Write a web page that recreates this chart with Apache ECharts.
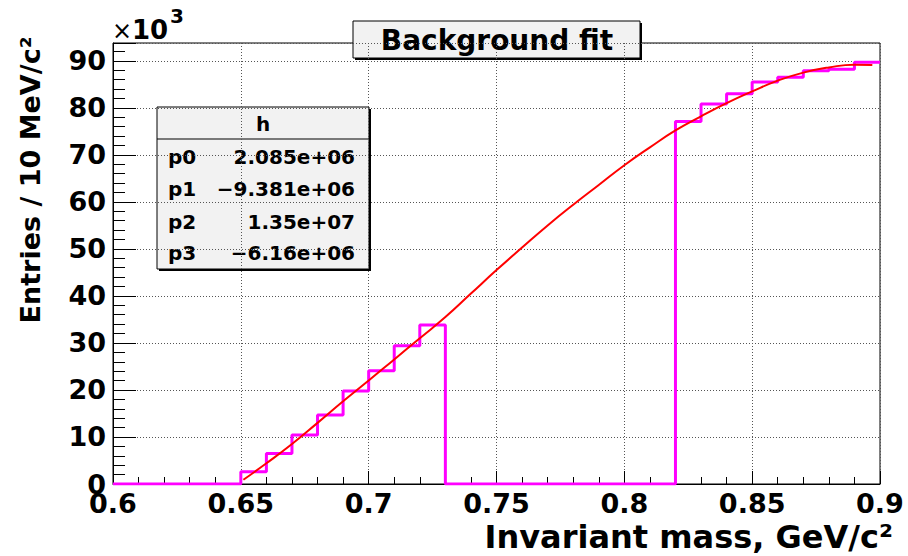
<!DOCTYPE html>
<html><head><meta charset="utf-8">
<script src="https://cdn.jsdelivr.net/npm/echarts@6/dist/echarts.min.js"></script>
<style>html,body{margin:0;padding:0;background:#fff}#c{width:908px;height:556px}</style>
</head><body><div id="c"></div>
<script>
// Histogram: low edges of 10 MeV bins and entries (in units of 10^3)
const binLowEdges = [0.60,0.61,0.62,0.63,0.64,0.65,0.66,0.67,0.68,0.69,
                     0.70,0.71,0.72,0.73,0.74,0.75,0.76,0.77,0.78,0.79,
                     0.80,0.81,0.82,0.83,0.84,0.85,0.86,0.87,0.88,0.89];
const binWidth = 0.01;
const binEntriesK = [0,0,0,0,0, 2.6,6.5,10.4,14.7,19.8,
                     24.1,29.4,33.8,0,0,0,0,0,0,0,
                     0,0,77.1,80.8,83.0,85.5,86.5,87.9,88.2,89.7];
// Fit curve (x in GeV/c^2, y in 10^3)
const fitX  = [0.651,0.66,0.67,0.68,0.69,0.70,0.71,0.72,0.73,0.74,0.75,0.76,0.77,0.78,0.79,0.80,0.81,0.82,0.83,0.84,0.85,0.86,0.87,0.88,0.89,0.897];
const fitYK = [0.9,4.4,8.5,13.0,17.6,22.0,26.5,31.0,35.5,40.5,45.5,50.3,55.0,59.4,63.6,67.8,71.6,75.2,78.2,81.0,83.5,85.8,87.5,88.6,89.2,89.1];
// Stats box
const statsHeader = 'h';
const statsNames  = ['p0','p1','p2','p3'];
const statsValues = ['2.085e+06','\u22129.381e+06','1.35e+07','\u22126.16e+06'];
const titleText = 'Background fit';
const xTitle = 'Invariant mass, GeV/c\u00B2';
const yTitle = 'Entries / 10 MeV/c\u00B2';
const yExponentParts = ['\u00D7', '10', '3'];

const FONT = '"DejaVu Sans", "Liberation Sans", sans-serif';

const histPts = [];
binLowEdges.forEach((lo, i) => {
  histPts.push([lo, binEntriesK[i]]);
  histPts.push([lo + binWidth, binEntriesK[i]]);
});
const fitPts = fitX.map((x, i) => [x, fitYK[i]]);

const chart = echarts.init(document.getElementById('c'), null, {renderer: 'svg'});

const statsTop = 107, statsLeft = 157, statsW = 212, statsH = 162;
const rowY = [157, 189, 221.5, 253];
const statsEls = [
  {type:'rect', shape:{x:statsLeft+2, y:statsTop+2, width:statsW, height:statsH}, style:{fill:'#000'}},
  {type:'rect', shape:{x:statsLeft, y:statsTop, width:statsW, height:statsH}, style:{fill:'#f2f2f2', stroke:'#000', lineWidth:1}},
  {type:'line', shape:{x1:statsLeft, y1:139, x2:statsLeft+statsW, y2:139}, style:{stroke:'#000', lineWidth:1}},
  {type:'text', style:{text:statsHeader, x:statsLeft+statsW/2, y:124, font:'bold 20px '+FONT, fill:'#000', textAlign:'center', textVerticalAlign:'middle'}}
];
statsNames.forEach((n, i) => {
  statsEls.push({type:'text', style:{text:n, x:168, y:rowY[i], font:'bold 20px '+FONT, fill:'#000', textAlign:'left', textVerticalAlign:'middle'}});
  statsEls.push({type:'text', style:{text:statsValues[i], x:355, y:rowY[i], font:'bold 20px '+FONT, fill:'#000', textAlign:'right', textVerticalAlign:'middle'}});
});

const option = {
  animation: false,
  backgroundColor: '#fff',
  grid: {left: 113, right: 28, top: 43, bottom: 72, show: true, borderColor: '#000', borderWidth: 1},
  xAxis: {
    type: 'value', min: 0.6, max: 0.9, interval: 0.05,
    axisLine: {show: true, onZero: false, lineStyle: {color: '#000', width: 1}},
    axisTick: {show: true, inside: true, length: 13, lineStyle: {color: '#000', width: 1, type: 'solid'}},
    minorTick: {show: true, splitNumber: 5, length: 7, lineStyle: {color: '#000', width: 1, type: 'solid'}},
    splitLine: {show: true, lineStyle: {color: '#555', width: 1, type: [1, 2]}},
    axisLabel: {margin: 6, color: '#000', fontFamily: FONT, fontWeight: 'bold', fontSize: 27,
      formatter: v => String(+v.toFixed(2))}
  },
  yAxis: {
    type: 'value', min: 0, max: 93.8, interval: 10,
    axisLine: {show: true, onZero: false, lineStyle: {color: '#000', width: 1}},
    axisTick: {show: true, inside: true, length: 23, lineStyle: {color: '#000', width: 1, type: 'solid'}},
    minorTick: {show: true, splitNumber: 5, length: 12, lineStyle: {color: '#000', width: 1, type: 'solid'}},
    splitLine: {show: true, lineStyle: {color: '#555', width: 1, type: [1, 2]}},
    axisLabel: {margin: 7, color: '#000', fontFamily: FONT, fontWeight: 'bold', fontSize: 27, showMaxLabel: false,
      formatter: v => (Math.abs(v % 10) < 1e-6 ? String(Math.round(v)) : '')}
  },
  series: [
    {type: 'line', data: histPts, showSymbol: false, symbol: 'none', clip: true,
     lineStyle: {color: '#ff00ff', width: 3}, z: 3},
    {type: 'line', data: fitPts, showSymbol: false, symbol: 'none', smooth: true, clip: true,
     lineStyle: {color: '#ff0000', width: 2}, z: 4}
  ],
  graphic: [
    {type: 'group', z: 100, children: statsEls},
    {type: 'group', z: 100, children: [
      {type:'rect', shape:{x:355, y:23, width:287, height:37}, style:{fill:'#000'}},
      {type:'rect', shape:{x:353, y:21, width:287, height:37}, style:{fill:'#f2f2f2', stroke:'#000', lineWidth:1}},
      {type:'text', style:{text:titleText, x:497, y:40, font:'bold 28px '+FONT, fill:'#000', textAlign:'center', textVerticalAlign:'middle'}}
    ]},
    {type:'text', z: 100, style:{text:yExponentParts[0], x:112, y:31, font:'24px '+FONT, fill:'#000', textAlign:'left', textVerticalAlign:'middle'}},
    {type:'text', z: 100, style:{text:yExponentParts[1], x:132, y:30, font:'bold 26px '+FONT, fill:'#000', textAlign:'left', textVerticalAlign:'middle'}},
    {type:'text', z: 100, style:{text:yExponentParts[2], x:170, y:16, font:'bold 20px '+FONT, fill:'#000', textAlign:'left', textVerticalAlign:'middle'}},
    {type:'text', z: 100, x: 30, y: 180, rotation: Math.PI/2,
     style:{text:yTitle, x:0, y:0, font:'bold 27px '+FONT, fill:'#000', textAlign:'center', textVerticalAlign:'middle'}},
    {type:'text', z: 100, style:{text:xTitle, x:893, y:537, font:'bold 32px '+FONT, fill:'#000', textAlign:'right', textVerticalAlign:'middle'}}
  ]
};
chart.setOption(option);
</script>
</body></html>
